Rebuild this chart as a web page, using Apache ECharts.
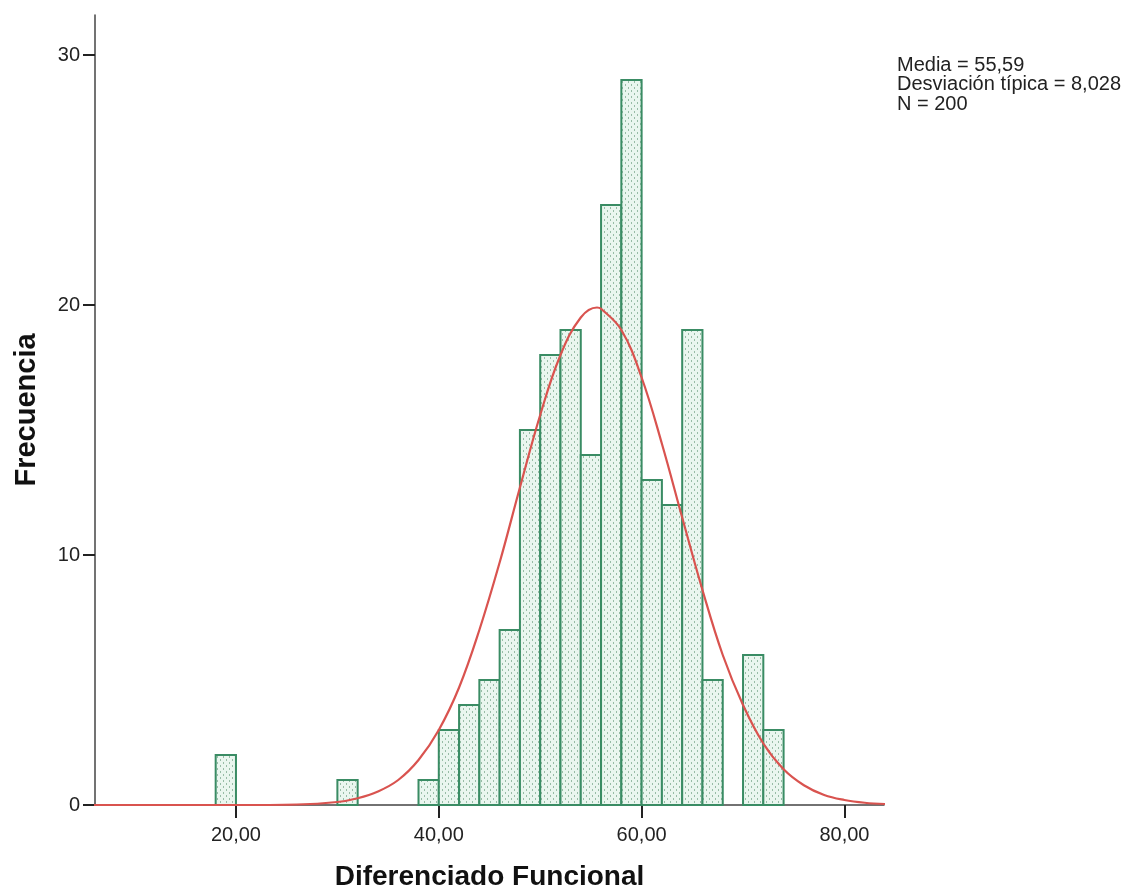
<!DOCTYPE html>
<html>
<head>
<meta charset="utf-8">
<script src="https://cdn.jsdelivr.net/npm/echarts@6/dist/echarts.min.js"></script>
<style>
html,body{margin:0;padding:0;background:#fff;}
#chart{width:1142px;height:894px;}
</style>
</head>
<body>
<div id="chart"></div>
<script>
// Histogram bins (lower edge, width 2)
var binStarts = [18, 30, 38, 40, 42, 44, 46, 48, 50, 52, 54, 56, 58, 60, 62, 64, 66, 70, 72];
var binCounts = [2, 1, 1, 3, 4, 5, 7, 15, 18, 19, 14, 24, 29, 13, 12, 19, 5, 6, 3];
var binWidth = 2;

// Normal curve
var curveX = [6, 20, 26, 30, 32, 34, 36, 38, 40, 42, 44, 46, 48, 50, 52, 54, 55.6, 56, 58, 60, 62, 64, 66, 68, 70, 72, 74, 76, 78, 80, 82, 84];
var curveY = [0, 0, 0.02, 0.12, 0.27, 0.54, 1.0, 1.8, 3.0, 4.7, 7.0, 9.7, 12.7, 15.6, 18.0, 19.5, 19.9, 19.85, 19.0, 17.1, 14.45, 11.5, 8.6, 6.0, 4.0, 2.46, 1.43, 0.79, 0.4, 0.2, 0.09, 0.04];

var xTicks = [20, 40, 60, 80];
var yTicks = [0, 10, 20, 30];
var statsLines = ['Media = 55,59', 'Desviación típica = 8,028', 'N = 200'];

var xTitle = 'Diferenciado Funcional';
var yTitle = 'Frecuencia';

// dotted fill pattern
var pc = document.createElement('canvas');
pc.width = 6; pc.height = 6;
var ctx = pc.getContext('2d');
ctx.fillStyle = '#eaf6ef';
ctx.fillRect(0, 0, 6, 6);
ctx.fillStyle = '#98bca6';
ctx.fillRect(1, 0, 1, 2);
ctx.fillRect(4, 3, 1, 2);

var binData = binStarts.map(function (s, i) { return [s, s + binWidth, binCounts[i]]; });
var curveData = curveX.map(function (x, i) { return [x, curveY[i]]; });

var chart = echarts.init(document.getElementById('chart'), null, {renderer: 'canvas'});
var font = '"Liberation Sans", Arial, sans-serif';

chart.setOption({
  animation: false,
  backgroundColor: '#ffffff',
  grid: {left: 95, top: 15, right: 258, bottom: 89, outerBoundsMode: 'none', containLabel: false},
  xAxis: {
    type: 'value', min: 6.1, max: 83.9,
    name: xTitle, nameLocation: 'middle', nameGap: 58,
    nameTextStyle: {fontFamily: font, fontSize: 28, fontWeight: 'bold', color: '#111'},
    axisLine: {show: true, lineStyle: {color: '#444', width: 1.5}},
    axisTick: {show: true, length: 13, lineStyle: {color: '#222', width: 2}, customValues: xTicks},
    axisLabel: {fontFamily: font, fontSize: 20, color: '#222', margin: 20, customValues: xTicks,
      formatter: function (v) { return v.toFixed(2).replace('.', ','); }},
    splitLine: {show: false}
  },
  yAxis: {
    type: 'value', min: 0, max: 31.6,
    name: yTitle, nameLocation: 'middle', nameGap: 54, nameRotate: 90,
    nameTextStyle: {fontFamily: font, fontSize: 29, fontWeight: 'bold', color: '#111'},
    axisLine: {show: true, lineStyle: {color: '#444', width: 1.5}},
    axisTick: {show: true, length: 12, lineStyle: {color: '#222', width: 2}, customValues: yTicks},
    axisLabel: {fontFamily: font, fontSize: 20, color: '#222', margin: 15, customValues: yTicks},
    splitLine: {show: false}
  },
  series: [
    {
      type: 'custom',
      data: binData,
      encode: {x: [0, 1], y: 2},
      renderItem: function (params, api) {
        var p0 = api.coord([api.value(0), api.value(2)]);
        var p1 = api.coord([api.value(1), 0]);
        return {
          type: 'rect',
          shape: {x: p0[0], y: p0[1], width: p1[0] - p0[0], height: p1[1] - p0[1]},
          style: {fill: {image: pc, repeat: 'repeat'}, stroke: '#3a8c64', lineWidth: 2}
        };
      },
      z: 2
    },
    {
      type: 'line',
      data: curveData,
      smooth: 0.4,
      showSymbol: false,
      lineStyle: {color: '#d9534f', width: 2.2},
      z: 3
    }
  ],
  graphic: [
    {
      type: 'text', left: 897, top: 55,
      style: {text: statsLines.join('\n'), fontFamily: font, fontSize: 20, lineHeight: 19.5, fill: '#222'}
    }
  ]
});
</script>
</body>
</html>
